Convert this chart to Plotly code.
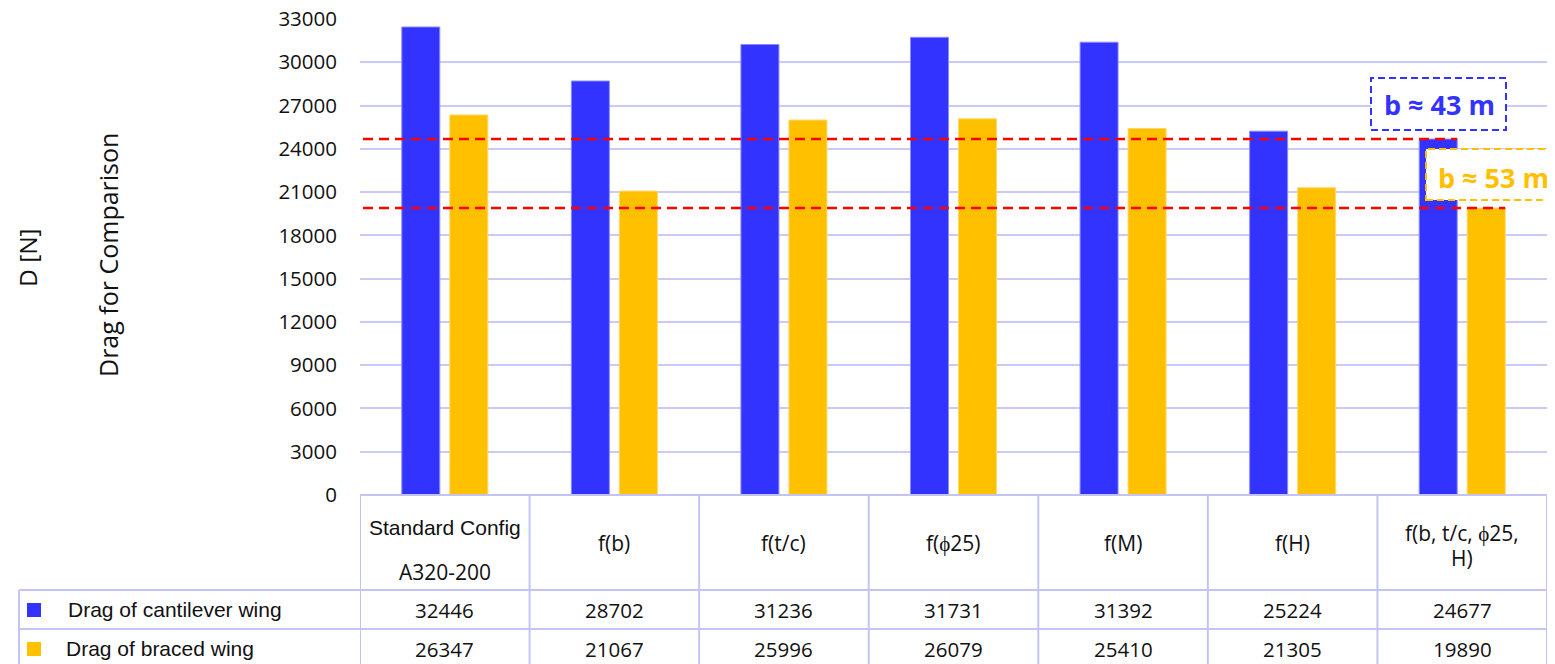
import plotly.graph_objects as go

categories = ["Standard Config<br>A320-200", "f(b)", "f(t/c)", "f(ϕ25)", "f(M)", "f(H)", "f(b, t/c, ϕ25,<br>H)"]
cat_line1 = ["Standard Config", "f(b)", "f(t/c)", "f(ϕ25)", "f(M)", "f(H)", "f(b, t/c, ϕ25,"]
cat_line2 = ["A320-200", "", "", "", "", "", "H)"]
cantilever = [32446, 28702, 31236, 31731, 31392, 25224, 24677]
braced = [26347, 21067, 25996, 26079, 25410, 21305, 19890]
series_names = ["Drag of cantilever wing", "Drag of braced wing"]
y_ticks = list(range(0, 33001, 3000))

BLUE = "#3333FF"
YELLOW = "#FFC000"
GRID = "#CACAF6"
TABLE = "#C4C4F4"

OFF = 8  # page body margin in the browser
W, H = 1555 - OFF, 664 - OFF
L, R, T, B = 360 - OFF, 8, 19 - OFF, 664 - 495
PW, PH = W - L - R, H - T - B
BARGAP = 1 - 96 / (PW / 7)
BARGROUPGAP = 10 / 48


def px_x(px):
    # px given in reference picture coordinates
    return (px - OFF - L) / PW


def px_y(py):
    return (H + OFF - B - py) / PH


xs = list(range(len(categories)))

fig = go.Figure()
fig.add_trace(go.Bar(x=xs, y=cantilever, name=series_names[0], marker=dict(color=BLUE, line=dict(color="#8C8CFF", width=1))))
fig.add_trace(go.Bar(x=xs, y=braced, name=series_names[1], marker=dict(color=YELLOW, line=dict(color="#FFD866", width=1))))

shapes = []
annotations = []

# reference lines at the last category's values
slot = (1 - BARGAP) / 2
half_bar = slot * (1 - BARGROUPGAP) / 2
last = xs[-1]
blue_right = last - slot / 2 + half_bar
yellow_right = last + slot / 2 + half_bar
x_start = -0.5 + 3 / (PW / 7)
shapes.append(dict(type="line", xref="x", yref="y", x0=x_start, x1=blue_right, y0=cantilever[-1], y1=cantilever[-1],
                   line=dict(color="#FF0000", width=2.5, dash="10px,6px"), layer="above"))
shapes.append(dict(type="line", xref="x", yref="y", x0=x_start, x1=yellow_right, y0=braced[-1], y1=braced[-1],
                   line=dict(color="#FF0000", width=2.5, dash="10px,6px"), layer="above"))

# callout boxes
shapes.append(dict(type="rect", xref="paper", yref="paper", x0=px_x(1371), x1=px_x(1506), y0=px_y(130), y1=px_y(78),
                   line=dict(color=BLUE, width=2, dash="7px,4px"), fillcolor="white", layer="above"))
annotations.append(dict(xref="paper", yref="paper", x=px_x(1439), y=px_y(104), text="<b>b ≈ 43 m</b>", showarrow=False,
                        font=dict(family="Open Sans", size=27, color=BLUE), xanchor="center", yanchor="middle"))
shapes.append(dict(type="rect", xref="paper", yref="paper", x0=px_x(1426), x1=px_x(1570), y0=px_y(200), y1=px_y(149),
                   line=dict(color=YELLOW, width=2, dash="7px,4px"), fillcolor="white", layer="above"))
annotations.append(dict(xref="paper", yref="paper", x=px_x(1436), y=px_y(177), text="<b>b ≈ 53 m</b>", showarrow=False,
                        font=dict(family="Open Sans", size=27, color=YELLOW), xanchor="left", yanchor="middle"))

# data table grid
tl = dict(color=TABLE, width=2)
for i in range(len(categories) + 1):
    shapes.append(dict(type="line", xref="x", yref="paper", x0=i - 0.5, x1=i - 0.5, y0=px_y(495), y1=px_y(670), line=tl))
for py in [495, 590, 629]:
    shapes.append(dict(type="line", xref="paper", yref="paper", x0=0, x1=1, y0=px_y(py), y1=px_y(py), line=tl))
for py in [590, 629]:
    shapes.append(dict(type="line", xref="paper", yref="paper", x0=px_x(19), x1=0, y0=px_y(py), y1=px_y(py), line=tl))
shapes.append(dict(type="line", xref="paper", yref="paper", x0=px_x(19), x1=px_x(19), y0=px_y(590), y1=px_y(670), line=tl))

# legend keys in the table
for color, py in [(BLUE, 610), (YELLOW, 649)]:
    shapes.append(dict(type="rect", xref="paper", yref="paper", x0=px_x(27), x1=px_x(41), y0=px_y(py + 7), y1=px_y(py - 7),
                       line=dict(width=0), fillcolor=color))
for name, px, py in [(series_names[0], 66, 609), (series_names[1], 64, 648)]:
    annotations.append(dict(xref="paper", yref="paper", x=px_x(px), y=px_y(py), text=name, showarrow=False,
                            font=dict(family="Liberation Sans", size=21, color="#111"), xanchor="left", yanchor="middle"))

# category header cells
for i in xs:
    if cat_line2[i]:
        if i == 0:
            annotations.append(dict(xref="x", yref="paper", x=i, y=px_y(527), text=cat_line1[i], showarrow=False,
                                    font=dict(family="Liberation Sans", size=21, color="#111"), yanchor="middle"))
            annotations.append(dict(xref="x", yref="paper", x=i, y=px_y(572), text=cat_line2[i], showarrow=False,
                                    font=dict(family="Open Sans", size=21, color="#111"), yanchor="middle"))
        else:
            annotations.append(dict(xref="x", yref="paper", x=i, y=px_y(533), text=cat_line1[i], showarrow=False,
                                    font=dict(family="Open Sans", size=21, color="#111"), yanchor="middle"))
            annotations.append(dict(xref="x", yref="paper", x=i, y=px_y(558), text=cat_line2[i], showarrow=False,
                                    font=dict(family="Open Sans", size=21, color="#111"), yanchor="middle"))
    else:
        annotations.append(dict(xref="x", yref="paper", x=i, y=px_y(543), text=cat_line1[i], showarrow=False,
                                font=dict(family="Open Sans", size=21, color="#111"), yanchor="middle"))

# value cells
for vals, py in [(cantilever, 610), (braced, 649)]:
    for i, v in zip(xs, vals):
        annotations.append(dict(xref="x", yref="paper", x=i, y=px_y(py), text=str(v), showarrow=False,
                                font=dict(family="Open Sans", size=20.5, color="#111"), yanchor="middle"))

# axis titles
annotations.append(dict(xref="paper", yref="paper", x=px_x(27), y=px_y(258), text="D [N]", textangle=-90, showarrow=False,
                        font=dict(family="Open Sans", size=24.5, color="#111"), xanchor="center", yanchor="middle"))
annotations.append(dict(xref="paper", yref="paper", x=px_x(108), y=px_y(255), text="Drag for Comparison", textangle=-90,
                        showarrow=False, font=dict(family="Open Sans", size=25, color="#111"), xanchor="center", yanchor="middle"))

fig.update_layout(
    width=W, height=H,
    margin=dict(l=L, r=R, t=T, b=B, autoexpand=False),
    paper_bgcolor="white", plot_bgcolor="white",
    barmode="group", bargap=BARGAP, bargroupgap=BARGROUPGAP,
    showlegend=False,
    xaxis=dict(range=[-0.5, 6.5], showticklabels=False, showgrid=False, zeroline=False, showline=False, ticks="",
               fixedrange=True),
    yaxis=dict(range=[0, max(y_ticks)], tickvals=y_ticks, ticktext=[str(t) for t in y_ticks], showgrid=True,
               gridcolor=GRID, gridwidth=1.6, zeroline=False, showline=False, ticks="", ticklabelstandoff=22,
               ticklabeloverflow="allow",
               tickfont=dict(family="Open Sans", size=20.5, color="#111"), automargin=False),
    shapes=shapes, annotations=annotations,
)

fig.write_html("out.html")
